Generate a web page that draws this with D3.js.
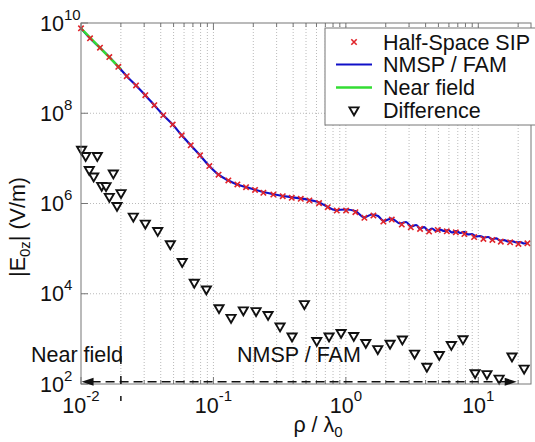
<!DOCTYPE html>
<html><head><meta charset="utf-8">
<script src="https://cdn.jsdelivr.net/npm/d3@7"></script>
<style>body{margin:0;background:#fff}svg{display:block;font-family:"Liberation Sans",Arial,Helvetica,sans-serif}</style>
</head><body><svg id="c" width="535" height="442"></svg>
<script>
// ---- data ----
const sipRho = [0.0100,0.01170,0.01391,0.01636,0.01913,0.02214,0.02603,0.03060,0.03578,0.04184,0.04927,0.05762,0.06737,0.07921,0.09312,0.1093,0.1296,0.1516,0.1763,0.2062,0.2382,0.2834,0.3337,0.3903,0.4565,0.5302,0.6275,0.7299,0.8539,1.0035,1.180,1.380,1.614,1.919,2.222,2.644,3.092,3.634,4.250,4.945,5.783,6.764,7.853,9.297,10.93,12.78,14.79,17.39,20.09,23.49];
const sipE = [7.62e9,4.57e9,2.83e9,1.76e9,1.07e9,6.64e8,4.13e8,2.51e8,1.51e8,9.03e7,5.61e7,3.24e7,1.95e7,1.17e7,6.74e6,4.34e6,3.24e6,2.64e6,2.30e6,2.00e6,1.73e6,1.58e6,1.45e6,1.34e6,1.27e6,1.17e6,1.02e6,8.28e5,6.99e5,6.99e5,6.41e5,4.81e5,5.41e5,3.98e5,4.41e5,3.41e5,2.97e5,2.74e5,2.39e5,2.60e5,2.42e5,2.30e5,2.10e5,1.80e5,1.64e5,1.56e5,1.43e5,1.38e5,1.27e5,1.31e5];
const famRho = [0.0100,0.01170,0.01391,0.01636,0.01913,0.02214,0.02603,0.03060,0.03578,0.04184,0.04927,0.05762,0.06737,0.07921,0.09312,0.1093,0.1296,0.1516,0.1763,
  0.1890,0.2382,0.3184,0.4511,0.5366,0.6166,0.7211,0.8288,1.0035,1.174,1.373,1.578,1.751,1.926,2.214,2.567,2.849,3.108,3.391,3.634,3.896,4.176,4.478,4.800,5.145,5.515,5.914,6.341,6.800,7.288,7.811,8.375,8.978,9.625,10.31,11.06,11.86,12.71,13.63,14.61,15.66,16.80,18.00,19.30,20.69,22.18,23.78];
const famE = [7.62e9,4.57e9,2.83e9,1.76e9,1.07e9,6.64e8,4.13e8,2.51e8,1.51e8,9.03e7,5.61e7,3.24e7,1.95e7,1.17e7,6.74e6,4.34e6,3.24e6,2.64e6,2.30e6,
  2.172e6,1.798e6,1.504e6,1.304e6,1.196e6,1.080e6,8.58e5,7.18e5,7.36e5,6.82e5,4.95e5,5.71e5,5.28e5,4.10e5,4.65e5,3.61e5,3.89e5,3.09e5,3.34e5,2.79e5,3.01e5,2.52e5,2.79e5,2.46e5,2.65e5,2.46e5,2.59e5,2.28e5,2.46e5,2.22e5,2.34e5,2.06e5,2.11e5,1.86e5,1.90e5,1.76e5,1.81e5,1.63e5,1.68e5,1.51e5,1.55e5,1.44e5,1.46e5,1.37e5,1.40e5,1.30e5,1.33e5];
const nearRho = [0.0100, 0.0200];
const nearE = [7.62e9, 9.5e8];
const diffRho = [0.0101,0.01085,0.01155,0.01247,0.01328,0.01433,0.01545,0.01636,0.01754,0.01870,0.02005,0.02483,0.03059,0.03795,0.04726,0.05812,0.07171,0.08841,0.1102,0.1358,0.1682,0.2098,0.2585,0.3184,0.3924,0.4860,0.6028,0.7467,0.9199,1.147,1.414,1.741,2.157,2.672,3.303,4.091,5.074,6.254,7.663,9.459,11.62,14.36,17.97,22.18];
const diffE = [1.58e7,1.15e7,5.61e6,4.04e6,1.15e7,2.51e6,2.47e6,1.43e6,4.71e6,9.0e5,1.73e6,5.22e5,3.65e5,2.51e5,1.27e5,5.14e4,1.78e4,1.27e4,4.88e3,2.97e3,4.37e3,4.19e3,3.45e3,1.92e3,1.15e3,6.0e3,916,1150,1380,1183,828,605,794,985,481,245,446,746,1000,177,169,134,413,223];
const xTickVals = [0.01, 0.1, 1, 10];
const xTickExps = ["-2", "-1", "0", "1"];
const yTickVals = [1e2, 1e4, 1e6, 1e8, 1e10];
const yTickExps = ["2", "4", "6", "8", "10"];
const legendLabels = ["Half-Space SIP", "NMSP / FAM", "Near field", "Difference"];
const regionLabels = ["Near field", "NMSP / FAM"];
const boundaryRho = 0.02;
const arrowRho = [0.0101, 19.5];
const arrowE = 112;
const boundaryE = [420, 42];

// ---- layout ----
const L = 81, T = 23, R = 531, B = 384;
const FS = 21.5, FE = 15;
const svg = d3.select("#c");
const x = d3.scaleLog().domain([0.01, 25]).range([L, R]);
const y = d3.scaleLog().domain([1e2, 1e10]).range([B, T]);

const g = svg.append("g");
// grid
const minorX = [];
for (let e = -2; e <= 1; e++) for (let m = 1; m <= 9; m++) { const v = m * Math.pow(10, e); if (v > 0.01 && v < 25) minorX.push(v); }
g.selectAll(".vg").data(minorX).join("line")
  .attr("x1", d => x(d)).attr("x2", d => x(d)).attr("y1", T).attr("y2", B)
  .attr("stroke", "#a8a8a8").attr("stroke-width", 0.8).attr("stroke-dasharray", "1,2");
g.selectAll(".hg").data(yTickVals.slice(1, -1)).join("line")
  .attr("x1", L).attr("x2", R).attr("y1", d => y(d)).attr("y2", d => y(d))
  .attr("stroke", "#a8a8a8").attr("stroke-width", 0.8).attr("stroke-dasharray", "1,2");

// lines
const line = d3.line().x(d => x(d[0])).y(d => y(d[1])).curve(d3.curveMonotoneX);
g.append("path").attr("d", line(d3.zip(famRho, famE))).attr("fill", "none").attr("stroke", "#1010c8").attr("stroke-width", 2.2);
g.append("path").attr("d", line(d3.zip(nearRho, nearE))).attr("fill", "none").attr("stroke", "#33dd33").attr("stroke-width", 2.4);

// SIP markers
const xm = (s) => `M${-s},${-s}L${s},${s}M${-s},${s}L${s},${-s}`;
g.selectAll(".sip").data(d3.zip(sipRho, sipE)).join("path")
  .attr("transform", d => `translate(${x(d[0])},${y(d[1])})`)
  .attr("d", xm(2.7)).attr("stroke", "#e0242a").attr("stroke-width", 1.6).attr("fill", "none");

// difference triangles
const tri = d3.symbol(d3.symbolTriangle, 36);
g.selectAll(".df").data(d3.zip(diffRho, diffE)).join("path")
  .attr("transform", d => `translate(${x(d[0])},${y(d[1])}) rotate(180)`)
  .attr("d", tri).attr("fill", "#fff").attr("stroke", "#111").attr("stroke-width", 1.9);

// axes box
g.append("rect").attr("x", L).attr("y", T).attr("width", R - L).attr("height", B - T)
  .attr("fill", "none").attr("stroke", "#777").attr("stroke-width", 1);

// ticks
const majX = xTickVals, minX = minorX.filter(v => !xTickVals.includes(v));
[[majX, 7], [minX, 4]].forEach(([vals, len]) => {
  g.selectAll(null).data(vals).join("line").attr("x1", d => x(d)).attr("x2", d => x(d)).attr("y1", B).attr("y2", B - len).attr("stroke", "#777");
  g.selectAll(null).data(vals).join("line").attr("x1", d => x(d)).attr("x2", d => x(d)).attr("y1", T).attr("y2", T + len).attr("stroke", "#777");
});
g.selectAll(null).data(yTickVals).join("line").attr("x1", L).attr("x2", L + 7).attr("y1", d => y(d)).attr("y2", d => y(d)).attr("stroke", "#777");

// tick labels
const xl = svg.selectAll(".xl").data(d3.zip(xTickVals, xTickExps)).join("text")
  .attr("x", d => x(d[0])).attr("y", 413).attr("text-anchor", "middle").attr("font-size", FS).attr("fill", "#111");
xl.append("tspan").text("10");
xl.append("tspan").attr("dy", -12).attr("font-size", FE).text(d => d[1]);
const yl = svg.selectAll(".yl").data(d3.zip(yTickVals, yTickExps)).join("text")
  .attr("x", 40).attr("y", d => y(d[0]) + 7.5).attr("font-size", FS).attr("fill", "#111");
yl.append("tspan").text("10");
yl.append("tspan").attr("dy", -11).attr("font-size", FE).text(d => d[1]);

// axis labels
const xt = svg.append("text").attr("x", 318).attr("y", 432).attr("text-anchor", "middle").attr("font-size", FS).attr("fill", "#111");
xt.append("tspan").text("ρ / λ");
xt.append("tspan").attr("dy", 5).attr("font-size", FE).text("0");
const yt = svg.append("text").attr("transform", "translate(25,227) rotate(-90)").attr("text-anchor", "middle").attr("font-size", FS).attr("fill", "#111");
yt.append("tspan").text("|E");
yt.append("tspan").attr("dy", 5).attr("font-size", FE).text("0z");
yt.append("tspan").attr("dy", -5).text("| (V/m)");

// annotations
svg.append("line").attr("x1", x(boundaryRho)).attr("x2", x(boundaryRho)).attr("y1", y(boundaryE[0])).attr("y2", y(boundaryE[1]))
  .attr("stroke", "#111").attr("stroke-width", 1.5).attr("stroke-dasharray", "8,12");
const ay = y(arrowE), ax0 = x(arrowRho[0]), ax1 = x(arrowRho[1]);
svg.append("line").attr("x1", ax0 + 10).attr("x2", ax1 - 10).attr("y1", ay).attr("y2", ay)
  .attr("stroke", "#111").attr("stroke-width", 1.5).attr("stroke-dasharray", "9,5");
svg.append("path").attr("d", `M${ax0},${ay}L${ax0 + 12},${ay - 4}L${ax0 + 12},${ay + 4}Z`).attr("fill", "#111");
svg.append("path").attr("d", `M${ax1},${ay}L${ax1 - 12},${ay - 4}L${ax1 - 12},${ay + 4}Z`).attr("fill", "#111");
svg.append("text").attr("x", 31).attr("y", 361.5).attr("font-size", FS).attr("fill", "#111").text(regionLabels[0]);
svg.append("text").attr("x", 237).attr("y", 361.5).attr("font-size", FS).attr("fill", "#111").text(regionLabels[1]);

// legend
const lg = svg.append("g");
lg.append("rect").attr("x", 325).attr("y", 28).attr("width", 215).attr("height", 97).attr("fill", "#fff").attr("stroke", "#777");
const rowY = [42, 64.5, 87.5, 110];
legendLabels.forEach((t, i) => {
  lg.append("text").attr("x", 383).attr("y", rowY[i] + 7.5).attr("font-size", FS).attr("fill", "#111").text(t);
});
lg.append("path").attr("transform", `translate(354,${rowY[0]})`).attr("d", xm(2.7)).attr("stroke", "#e0242a").attr("stroke-width", 1.6);
lg.append("line").attr("x1", 336).attr("x2", 372).attr("y1", rowY[1]).attr("y2", rowY[1]).attr("stroke", "#1010c8").attr("stroke-width", 2.2);
lg.append("line").attr("x1", 336).attr("x2", 372).attr("y1", rowY[2]).attr("y2", rowY[2]).attr("stroke", "#33dd33").attr("stroke-width", 2.4);
lg.append("path").attr("transform", `translate(354,${rowY[3]}) rotate(180)`).attr("d", tri).attr("fill", "#fff").attr("stroke", "#111").attr("stroke-width", 1.9);
</script></body></html>
